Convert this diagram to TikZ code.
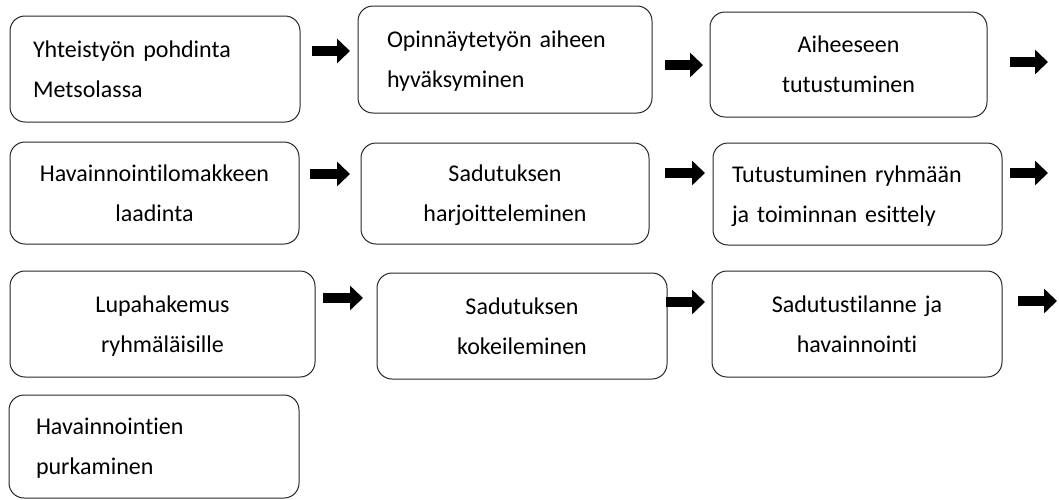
\documentclass[tikz,border=0pt]{standalone}
\usepackage{fontspec}
\setmainfont{Carlito}[Ligatures={NoCommon}]
\usetikzlibrary{arrows.meta}
\newcommand\mystrut{\rule[-6pt]{0pt}{28pt}}
\begin{document}
\begin{tikzpicture}[x=1pt,y=1pt,
  box/.style={draw=black!85, line width=1pt, rounded corners=15pt,
    font={\fontsize{24pt}{40pt}\selectfont}, inner ysep=0pt},
  lbox/.style={box, align=left},
  cbox/.style={box, align=center, inner xsep=10pt},
  blk/.style={line width=10pt, draw=black, -{Triangle[length=13pt,width=24pt]}}]
\useasboundingbox (0,0) rectangle (1059,-499);
% row 1
\node[lbox, inner xsep=23pt, text width=244pt, minimum width=290pt, minimum height=106pt] (b1) at (155,-69)
  {\mystrut Yhteistyön pohdinta\\\mystrut Metsolassa};
\node[lbox, inner xsep=29pt, text width=236pt, minimum width=294pt, minimum height=107pt] (b2) at (505,-59.5)
  {\mystrut Opinnäytetyön aiheen\\\mystrut hyväksyminen};
\node[cbox, text width=257pt, minimum width=277pt, minimum height=105pt] (b3) at (848.5,-64.5)
  {\mystrut Aiheeseen\\\mystrut tutustuminen};
% row 2
\node[cbox, text width=269pt, minimum width=289pt, minimum height=102pt] (b4) at (154.5,-193)
  {\mystrut Havainnointilomakkeen\\\mystrut laadinta};
\node[cbox, text width=268pt, minimum width=288pt, minimum height=101pt] (b5) at (505,-193.5)
  {\mystrut Sadutuksen\\\mystrut harjoitteleminen};
\node[lbox, inner xsep=19pt, text width=251pt, minimum width=289pt, minimum height=102pt] (b6) at (857.5,-194)
  {\mystrut Tutustuminen ryhmään\\\mystrut ja toiminnan esittely};
% row 3
\node[cbox, text width=285pt, minimum width=305pt, minimum height=106pt] (b7) at (162.5,-324)
  {\mystrut Lupahakemus\\\mystrut ryhmäläisille};
\node[cbox, text width=270pt, minimum width=290pt, minimum height=106pt] (b8) at (522,-326)
  {\mystrut Sadutuksen\\\mystrut kokeileminen};
\node[cbox, text width=270pt, minimum width=290pt, minimum height=106pt] (b9) at (857,-324)
  {\mystrut Sadutustilanne ja\\\mystrut havainnointi};
% row 4
\node[lbox, inner xsep=27pt, text width=236pt, minimum width=290pt, minimum height=103pt] (b10) at (154,-446.5)
  {\mystrut Havainnointien\\\mystrut purkaminen};
% arrows
\coordinate (a1s) at (312,-51);  \coordinate (a1e) at (350,-51);
\coordinate (a2s) at (665,-65);  \coordinate (a2e) at (703,-65);
\coordinate (a3s) at (1010,-62); \coordinate (a3e) at (1048,-62);
\coordinate (a4s) at (310,-174); \coordinate (a4e) at (350,-174);
\coordinate (a5s) at (665,-173); \coordinate (a5e) at (705,-173);
\coordinate (a6s) at (1010,-173);\coordinate (a6e) at (1048,-173);
\coordinate (a7s) at (323,-298); \coordinate (a7e) at (363,-298);
\coordinate (a8s) at (666,-302); \coordinate (a8e) at (705,-302);
\coordinate (a9s) at (1018,-301);\coordinate (a9e) at (1057,-301);
\foreach \i in {1,...,9} {\draw[blk] (a\i s) -- (a\i e);}
\end{tikzpicture}
\end{document}
